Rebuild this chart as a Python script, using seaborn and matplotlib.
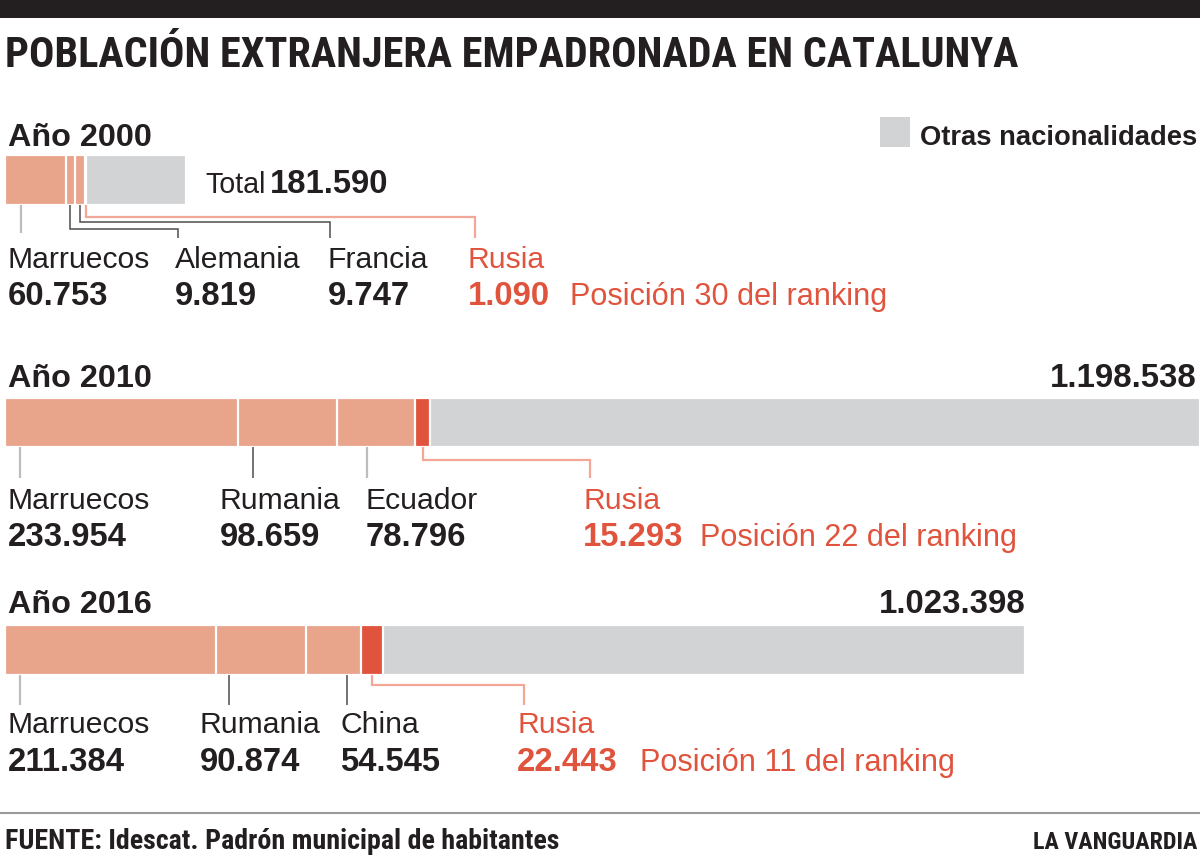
import os
import numpy as np
import pandas as pd
import matplotlib
matplotlib.use("Agg")
import matplotlib.pyplot as plt
import seaborn as sns
from matplotlib import font_manager as fm
from matplotlib.patches import Rectangle

# ---------------- data ----------------
years = ["Año 2000", "Año 2010", "Año 2016"]
totals = [181590, 1198538, 1023398]
top_names = [["Marruecos", "Alemania", "Francia"],
             ["Marruecos", "Rumania", "Ecuador"],
             ["Marruecos", "Rumania", "China"]]
top_values = [[60753, 9819, 9747],
              [233954, 98659, 78796],
              [211384, 90874, 54545]]
rusia_values = [1090, 15293, 22443]
rusia_rank = [30, 22, 11]

title = "POBLACIÓN EXTRANJERA EMPADRONADA EN CATALUNYA"
legend_label = "Otras nacionalidades"
source = "FUENTE: Idescat. Padrón municipal de habitantes"
brand = "LA VANGUARDIA"

# ---------------- style ----------------
SALMON = "#e9a48c"
RED = "#e0533d"
GRAY = "#d1d3d4"
DARK = "#231f20"
LINE_LIGHT = "#bdbdbd"
LINE_DARK = "#4d4d4d"
LINE_RED = "#f3a797"

sns.set_theme(style="white")
avail = {f.name for f in fm.fontManager.ttflist}
REG = "Liberation Sans" if "Liberation Sans" in avail else "DejaVu Sans"
plt.rcParams["font.family"] = [REG, "DejaVu Sans"]

# look for a condensed bold face (by file) for title / footer
def find_condensed_bold():
    prefs = ["Roboto", "OpenSans", "Open Sans", "NotoSans", "Liberation", "DejaVu", ""]
    files = [f.fname for f in fm.fontManager.ttflist]
    cands = []
    for p in files:
        b = os.path.basename(p)
        if ("Condensed" in b or "Narrow" in b) and "Bold" in b and not any(
                k in b for k in ["Italic", "Oblique", "Extra", "Semi", "Light", "Black"]):
            cands.append(p)
    for pref in prefs:
        for p in cands:
            if pref.replace(" ", "") in os.path.basename(p):
                return p
    return None

COND_FILE = find_condensed_bold()
if COND_FILE:
    COND_PROP = fm.FontProperties(fname=COND_FILE)
else:
    COND_PROP = fm.FontProperties(family=["DejaVu Sans"], weight="bold")

W, H = 1200, 858
fig = plt.figure(figsize=(W / 100, H / 100), dpi=100)
fig.patch.set_facecolor("white")
ax0 = fig.add_axes([0, 0, 1, 1])
ax0.set_xlim(0, W)
ax0.set_ylim(H, 0)
ax0.axis("off")
renderer = fig.canvas.get_renderer()

def make_prop(family, weight, size):
    if family == "COND":
        p = COND_PROP.copy()
        if not COND_FILE:
            p.set_weight(weight)
    else:
        p = fm.FontProperties(family=[family, "DejaVu Sans"], weight=weight)
    p.set_size(size)
    return p

def fit_size(s, family, weight, target_w):
    t = ax0.text(0, 0, s, fontproperties=make_prop(family, weight, 20))
    w = t.get_window_extent(renderer).width
    t.remove()
    return 20 * target_w / w

def put(x, y, s, size, family, weight="normal", color=DARK, ha="left"):
    return ax0.text(x, y, s, fontproperties=make_prop(family, weight, size),
                    color=color, ha=ha, va="baseline")

def fmt(v):
    return f"{v:,}".replace(",", ".")

# ---------------- bar scale: 0 at 5 px, total 2010 at 1200 px ----------------
x0_px, x1_px = 5, 1200
scale = (x1_px - x0_px) / totals[1]
XMIN = -x0_px / scale
XMAX = XMIN + W / scale
def px(v):
    return (v - XMIN) / (XMAX - XMIN) * W

# layout per year (pixels)
bar_y = [(155, 205), (398, 447), (625, 675)]
head_base = [146, 387, 613]
name_base = [268, 509, 733]
val_base = [305, 546, 771]
name_x = [[8, 175, 328], [8, 220, 366], [8, 200, 340]]
rus_x = [468, 583, 517]
pos_x = [570, 700, 640]
leaders = [
    [(21, None, 21, 233, LINE_LIGHT), (None, 229, 178, 238, LINE_DARK), (None, 222, 330, 238, LINE_DARK)],
    [(20, None, 20, 478, LINE_LIGHT), (253, None, 253, 478, LINE_DARK), (367, None, 367, 478, LINE_LIGHT)],
    [(20, None, 20, 705, LINE_LIGHT), (229, None, 229, 705, LINE_DARK), (347, None, 347, 705, LINE_DARK)],
]
rus_leader = [(217, 475, 238), (460, 590, 478), (685, 524, 705)]

# fitted font sizes
fs_title = fit_size(title, "COND", "bold", 1015)
fs_head = fit_size("Año 2000", REG, "bold", 144)
fs_name = fit_size("Marruecos", REG, "normal", 142)
fs_val = fit_size("233.954", REG, "bold", 119)
fs_pos = fit_size("Posición 22 del ranking", REG, "normal", 317)
fs_tot = fit_size("1.198.538", REG, "bold", 147)
fs_leg = fit_size(legend_label, REG, "bold", 277)
fs_src = fit_size(source, "COND", "bold", 555)
fs_brand = fit_size(brand, "COND", "bold", 164)

# ---------------- header / footer ----------------
ax0.add_patch(Rectangle((0, 0), W, 18, color=DARK, lw=0))
put(5, 67, title, fs_title, "COND", "bold")
ax0.add_patch(Rectangle((880, 117), 30, 30, color=GRAY, lw=0))
put(920, 145, legend_label, fs_leg, REG, "bold")
ax0.plot([0, W], [813, 813], color="#9a9a9a", lw=1.5, solid_capstyle="butt")
put(5, 849, source, fs_src, "COND", "bold")
put(1197, 849, brand, fs_brand, "COND", "bold", ha="right")

# ---------------- bars (seaborn) ----------------
for i, yr in enumerate(years):
    top, bot = bar_y[i]
    axb = fig.add_axes([0, 1 - bot / H, 1, (bot - top) / H])
    cum = np.cumsum(top_values[i])
    layers = [(totals[i], GRAY), (cum[-1] + rusia_values[i], RED)]
    layers += [(c, SALMON) for c in cum[::-1]]
    for val, col in layers:
        df = pd.DataFrame({"valor": [val], "año": [yr]})
        sns.barplot(data=df, x="valor", y="año", orient="h", color=col,
                    saturation=1, width=1.0, edgecolor="white", linewidth=1.6, ax=axb)
    axb.set_xlim(XMIN, XMAX)
    axb.set_ylim(0.5, -0.5)
    axb.axis("off")

    put(8, head_base[i], yr, fs_head, REG, "bold")
    if i == 0:
        put(205, 193, "Total", fs_name * 0.95, REG, "normal")
        put(270, 193, fmt(totals[i]), fs_val, REG, "bold")
    else:
        put(px(totals[i]) if i == 2 else 1197, head_base[i], fmt(totals[i]),
            fs_tot, REG, "bold", ha="right")

    starts = np.concatenate([[0], cum[:-1]])
    for j in range(3):
        put(name_x[i][j], name_base[i], top_names[i][j], fs_name, REG)
        put(name_x[i][j], val_base[i], fmt(top_values[i][j]), fs_val, REG, "bold")
        sx, by, ex, ey, col = leaders[i][j]
        if sx is None:
            sx = px(starts[j] + top_values[i][j] / 2)
        lw = 1.6 if col == LINE_LIGHT else 1.1
        if by is None:
            ax0.plot([sx, sx], [bot, ey], color=col, lw=lw, solid_capstyle="butt")
        else:
            ax0.plot([sx, sx, ex, ex], [bot, by, by, ey], color=col, lw=lw,
                     solid_capstyle="butt", solid_joinstyle="miter")

    rx = px(cum[-1] + rusia_values[i] / 2)
    by, ex, ey = rus_leader[i]
    ax0.plot([rx, rx, ex, ex], [bot, by, by, ey], color=LINE_RED, lw=1.6,
             solid_capstyle="butt", solid_joinstyle="miter")
    put(rus_x[i], name_base[i], "Rusia", fs_name, REG, color=RED)
    put(rus_x[i], val_base[i], fmt(rusia_values[i]), fs_val, REG, "bold", color=RED)
    put(pos_x[i], val_base[i], f"Posición {rusia_rank[i]} del ranking", fs_pos, REG, color=RED)

fig.savefig("out.png", dpi=100, facecolor="white")
